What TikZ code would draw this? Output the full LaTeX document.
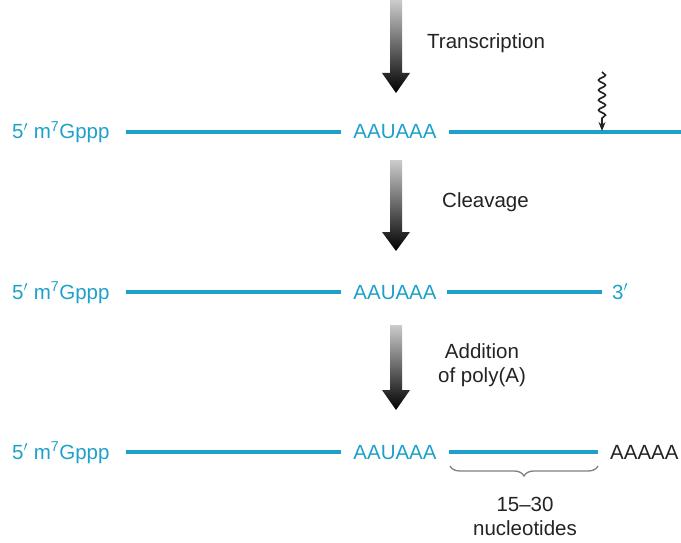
\documentclass[tikz,border=0pt]{standalone}
\usepackage{fontspec}
\setmainfont{Liberation Sans}
\usetikzlibrary{decorations.pathmorphing,decorations.pathreplacing,arrows.meta}
\definecolor{rnacol}{RGB}{30,160,200}
\definecolor{txtcol}{RGB}{35,35,35}
\tikzset{
  rna/.style={draw=rnacol,line width=4pt},
  seq/.style={text=rnacol,inner sep=0pt,text height=14pt,text depth=0pt,font=\fontsize{20.5}{24}\selectfont},
  steplabel/.style={text=txtcol,inner sep=0pt,align=center,font=\fontsize{20.5}{24}\selectfont},
  bigarrow/.style={top color=white!80!black,bottom color=black,draw=none},
}
\begin{document}
\begin{tikzpicture}[x=1pt,y=-1pt]
\useasboundingbox (0,0) rectangle (681,543);
% big process arrows
\shade[bigarrow] (390,0) -- (402,0) -- (402,73) -- (410,73) -- (396,93) -- (382,73) -- (390,73) -- cycle;
\shade[bigarrow] (390,160) -- (402,160) -- (402,232) -- (410,232) -- (396,251) -- (382,232) -- (390,232) -- cycle;
\shade[bigarrow] (390,325) -- (402,325) -- (402,390) -- (410,390) -- (396,410) -- (382,390) -- (390,390) -- cycle;
\node[steplabel,anchor=west] (tr) at (427,43) {Transcription};
\node[steplabel,anchor=west] (cl) at (442,202) {Cleavage};
\node[steplabel] (ad) at (482,365) {Addition\\of poly(A)};
% row 1
\node[seq,anchor=west] (cap1) at (12,132) {5$'$ m\textsuperscript{7}Gppp};
\node[seq] (aau1) at (395,132) {AAUAAA};
\coordinate (end1) at (681,132);
\coordinate (cut) at (602,131);
\coordinate (wtop) at (602,72);
\draw[rna,shorten <=16pt,shorten >=12pt] (cap1.east) -- (aau1.west);
\draw[rna,shorten <=12pt] (aau1.east) -- (end1);
\draw[txtcol,line width=1.6pt,decorate,decoration={snake,amplitude=3.5pt,segment length=10pt,post length=10pt},-{Stealth[length=9pt,width=7pt]}] (wtop) -- (cut);
% row 2
\node[seq,anchor=west] (cap2) at (12,292) {5$'$ m\textsuperscript{7}Gppp};
\node[seq] (aau2) at (395,292) {AAUAAA};
\node[seq,anchor=west] (three) at (612,292) {3$'$};
\draw[rna,shorten <=16pt,shorten >=12pt] (cap2.east) -- (aau2.west);
\draw[rna,shorten <=10pt,shorten >=10pt] (aau2.east) -- (three.west);
% row 3
\node[seq,anchor=west] (cap3) at (12,452) {5$'$ m\textsuperscript{7}Gppp};
\node[seq] (aau3) at (395,452) {AAUAAA};
\node[seq,anchor=west,text=txtcol] (polyA) at (610,452) {AAAAA};
\draw[rna,shorten <=16pt,shorten >=12pt] (cap3.east) -- (aau3.west);
\draw[rna,shorten <=12pt,shorten >=12pt] (aau3.east) -- (polyA.west);
\coordinate (bl) at (450,466);
\coordinate (br) at (598,466);
\draw[gray,line width=1.3pt,decorate,decoration={brace,mirror,amplitude=10pt}] (bl) -- (br);
\node[steplabel] (nt) at (525,516) {15–30\\nucleotides};
\end{tikzpicture}
\end{document}
